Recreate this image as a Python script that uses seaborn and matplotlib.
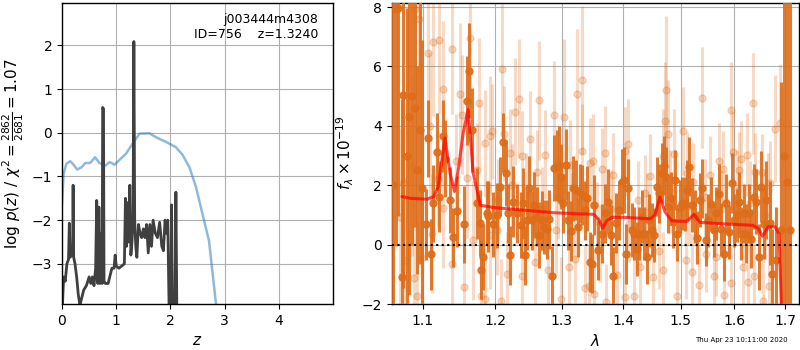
import numpy as np
import seaborn as sns
import matplotlib
matplotlib.use("Agg")
import matplotlib.pyplot as plt
from matplotlib.ticker import NullLocator

sns.set_style("ticks", {"axes.grid": True, "grid.color": "#b0b0b0", "axes.edgecolor": "k",
                        "xtick.color": "k", "ytick.color": "k", "text.color": "k",
                        "axes.labelcolor": "k"})
plt.rcParams['font.family'] = ['DejaVu Sans']

# ---- p(z) panel ----
z_pz = [0.0, 0.03, 0.06, 0.09, 0.12, 0.135, 0.15, 0.17, 0.195, 0.205, 0.215, 0.24, 0.27, 0.30,
        0.33, 0.36, 0.40, 0.45, 0.50, 0.53, 0.56, 0.59, 0.62, 0.64, 0.66, 0.68, 0.70, 0.72, 0.74,
        0.750, 0.765, 0.775, 0.80, 0.85, 0.88, 0.92, 0.96, 0.98, 1.0, 1.05, 1.1, 1.15, 1.17,
        1.19, 1.21, 1.23, 1.25, 1.27, 1.29, 1.31, 1.325, 1.34, 1.36, 1.38, 1.41, 1.44, 1.47,
        1.50, 1.53, 1.56, 1.59, 1.62, 1.65, 1.68, 1.72, 1.76, 1.80, 1.84, 1.87, 1.90, 1.93,
        1.95, 1.98, 2.0, 2.02, 2.04, 2.08, 2.10, 2.12, 2.2]
logpz = [-4.2, -3.3, -3.4, -3.0, -2.9, -2.07, -2.85, -2.8, -2.8, -1.2, -2.85, -3.0, -3.3, -3.7,
         -3.95, -3.8, -3.6, -3.5, -3.3, -3.45, -3.3, -3.5, -3.1, -1.55, -3.45, -1.7, -3.45, -2.3,
         -3.45, 0.58, 0.55, -3.4, -3.45, -3.45, -3.3, -3.1, -3.1, -2.8, -3.05, -3.1, -3.05,
         -3.0, -1.5, -2.6, -1.6, -2.5, -1.2, -2.8, -2.5, -2.0, 2.09, -2.0, -2.6, -2.85, -2.1,
         -2.3, -2.4, -2.2, -2.4, -2.1, -2.75, -2.1, -2.6, -2.0, -2.3, -2.4, -2.05, -2.6, -2.7,
         -2.0, -2.3, -2.0, -4.5, -4.5, -1.65, -4.5, -4.5, -1.36, -4.5, -6.0]

z_chi = [0.0, 0.03, 0.08, 0.15, 0.2, 0.28, 0.36, 0.43, 0.52, 0.61, 0.69, 0.8, 0.88, 0.97, 1.06,
         1.18, 1.3, 1.43, 1.61, 1.73, 1.92, 2.1, 2.22, 2.35, 2.47, 2.59, 2.71, 2.84, 2.95]
chi_prior = [-1.63, -0.94, -0.71, -0.65, -0.71, -0.84, -0.79, -0.69, -0.69, -0.56, -0.69, -0.75,
             -0.67, -0.73, -0.62, -0.48, -0.25, -0.02, -0.01, -0.1, -0.21, -0.33, -0.5, -0.79,
             -1.24, -1.86, -2.47, -3.93, -5.5]

# ---- spectrum panel ----
dark_wave = [1.0612, 1.0655, 1.0685, 1.0727, 1.0749, 1.0792, 1.0822, 1.0865, 1.0900, 1.0931,
             1.0966, 1.0988, 1.1041, 1.1076, 1.1116, 1.1143, 1.1187, 1.1223, 1.1268, 1.1300,
             1.1368, 1.1413, 1.1459, 1.1560, 1.1597, 1.1635, 1.1677, 1.1737, 1.1784, 1.1794,
             1.1832, 1.1879, 1.1903, 1.1965, 1.2024, 1.2072, 1.2120, 1.2154, 1.2193, 1.2218,
             1.2267, 1.2316, 1.2380, 1.2415, 1.2440, 1.2475, 1.2505, 1.2540, 1.2575, 1.2615,
             1.2656, 1.2691, 1.2727, 1.2767, 1.2808, 1.2844, 1.2885, 1.2921, 1.2952, 1.2983,
             1.3025, 1.3062, 1.3104, 1.3146, 1.3183, 1.3225, 1.3262, 1.3288, 1.3320, 1.3368,
             1.3406, 1.3449, 1.3477, 1.3519, 1.3585, 1.3640, 1.3694, 1.3749, 1.3788, 1.3832,
             1.3876, 1.3932, 1.3971, 1.4016, 1.4044, 1.4083, 1.4140, 1.4185, 1.4225, 1.4270,
             1.4310, 1.4356, 1.4396, 1.4442, 1.4489, 1.4529, 1.4570, 1.4617, 1.4658, 1.4699,
             1.4734, 1.4776, 1.4823, 1.4865, 1.4900, 1.4936, 1.4984, 1.5026, 1.5074, 1.5117,
             1.5153, 1.5195, 1.5256, 1.5299, 1.5348, 1.5397, 1.5459, 1.5508, 1.5558, 1.5608,
             1.5658, 1.5708, 1.5752, 1.5803, 1.5847, 1.5892, 1.5943, 1.5987, 1.6039, 1.6090,
             1.6135, 1.6180, 1.6232, 1.6284, 1.6329, 1.6381, 1.6427, 1.6480, 1.6526, 1.6572,
             1.6625, 1.6692, 1.6745, 1.6813, 1.6928, 1.6990, 1.7044, 1.7112]
dark_flux = [2.0, 7.95, 7.97, -1.10, 5.04, 2.97, 4.30, 5.00, 4.59, 2.51,
             3.86, 1.90, 0.68, 3.58, -0.33, 1.39, 3.13, 1.62, 3.66, 2.90,
             1.50, 0.25, 1.12, 0.69, 4.85, 5.85, 3.86, 1.39, 0.73, -0.84,
             -0.42, 1.05, 0.96, 0.68, 0.99, 1.95, 3.45, 2.41, 1.05, -0.36,
             1.45, 1.05, 0.66, 1.39, -0.36, 0.82, 1.90, 0.82, 1.33, 0.94,
             0.32, 0.82, 0.60, 0.51, 0.85, -1.04, 2.58, 2.66, 2.69, 2.29,
             1.39, 2.69, 0.82, 0.46, 1.90, 1.84, 0.60, 1.73, 1.67, 1.16,
             1.56, -0.59, -0.64, 1.33, -0.19, 0.37, 1.05, 1.45, 0.32, -1.07,
             0.73, 1.16, 2.12, 2.18, -0.31, 1.90, 0.49, 0.37, -0.14, 0.37,
             0.94, 0.37, -0.42, 0.82, 0.49, 0.32, 1.95, 1.73, 2.41, 2.66,
             2.29, 1.28, 1.56, 0.77, 2.18, 0.35, 1.28, 1.39, 1.37, 1.84,
             2.63, 1.33, 0.94, 0.24, 1.50, 1.90, 0.17, 0.82, 1.37, 0.49,
             1.05, 1.71, 0.51, -0.33, 1.39, 0.43, 2.07, 0.82, 0.99, 1.45,
             0.37, 1.05, 0.37, 1.05, 0.20, 1.62, 1.45, -0.42, 1.95, 0.71,
             1.50, 0.73, -0.98, -0.53, 0.49, 3.00, 2.10, 0.49]
dark_err = [9.0, 8.0, 7.0, 6.0, 6.5, 5.0, 6.0, 5.0, 4.0, 3.5,
            4.5, 5.0, 1.2, 1.3, 1.2, 1.3, 1.3, 1.2, 1.2, 1.3,
            1.1, 1.0, 1.2, 1.3, 1.5, 1.6, 1.4, 1.2, 1.1, 1.0,
            1.1, 1.1, 1.2, 1.1, 1.1, 1.0, 1.0, 1.1, 1.0, 1.0,
            1.2, 1.0, 1.1, 1.2, 1.0, 1.0, 1.1, 1.0, 1.1, 1.0,
            1.1, 1.0, 0.9, 1.0, 1.0, 1.0, 1.1, 1.2, 1.3, 1.1,
            1.0, 1.2, 1.0, 1.0, 1.1, 1.0, 1.0, 1.0, 1.0, 1.0,
            1.1, 1.0, 1.0, 1.0, 1.0, 1.0, 1.0, 1.1, 1.0, 1.0,
            1.0, 1.0, 1.1, 1.1, 1.0, 1.0, 0.9, 0.9, 0.9, 0.9,
            0.9, 0.9, 0.9, 0.9, 0.9, 0.9, 1.0, 1.0, 1.0, 1.0,
            1.0, 0.9, 0.9, 0.9, 1.0, 0.9, 0.9, 0.9, 0.9, 1.0,
            1.0, 0.9, 0.9, 0.9, 0.9, 1.0, 0.9, 0.9, 0.9, 0.9,
            0.9, 1.0, 0.9, 0.9, 1.0, 0.9, 1.0, 0.9, 0.9, 1.0,
            0.9, 1.0, 1.0, 1.0, 1.0, 1.1, 1.1, 1.1, 1.2, 1.2,
            1.3, 1.4, 1.5, 1.8, 5.0, 9.0, 10.0, 10.0]

light_wave = [1.0900, 1.0957, 1.1143, 1.1223, 1.1391, 1.1076, 1.1277, 1.1505, 1.1528, 1.1775,
              1.1644, 1.1927, 1.1860, 1.1098, 1.0857, 1.0749, 1.0706, 1.0770, 1.0892, 1.0988,
              1.1120, 1.1268, 1.1391, 1.1560, 1.1794, 1.1855, 1.1927, 1.1691, 1.1597, 1.0931,
              1.2106, 1.2355, 1.2656, 1.3325, 1.3245, 1.2296, 1.2885, 1.3036, 1.1952, 1.2135,
              1.2515, 1.2400, 1.2742, 1.3315, 1.3130, 1.3449, 1.2615, 1.2218, 1.2024, 1.2169,
              1.2390, 1.2590, 1.2793, 1.2906, 1.3109, 1.3368, 1.2087, 1.3209, 1.3440, 1.2989,
              1.3493, 1.3700, 1.3640, 1.3832, 1.4022, 1.4083, 1.4734, 1.4717, 1.4776, 1.4676,
              1.5032, 1.4877, 1.5104, 1.4454, 1.4253, 1.4368, 1.3515, 1.3711, 1.3899, 1.4027,
              1.4185, 1.4512, 1.4687, 1.4925, 1.5092, 1.4617, 1.4282, 1.3613,
              1.5397, 1.5930, 1.6362, 1.6793, 1.6894, 1.5708, 1.5784, 1.5975, 1.6122, 1.6245,
              1.6090, 1.6394, 1.6546, 1.5226, 1.5533, 1.6692, 1.6659, 1.5324, 1.5608, 1.5797,
              1.5936, 1.6167, 1.6265, 1.6559, 1.6678, 1.5213, 1.5471, 1.5658, 1.6380,
              1.2050, 1.2250, 1.2450, 1.2700, 1.2950, 1.3170, 1.3560, 1.3800, 1.4100, 1.4400,
              1.4800, 1.5150, 1.5450, 1.5750, 1.6050, 1.6300, 1.6600, 1.1200, 1.1450, 1.1750]
light_flux = [7.94, 7.60, 6.84, 6.90, 6.59, 6.47, 5.23, 5.06, 4.38, 4.76,
              6.95, 3.67, 3.42, 3.99, 2.63, 2.09, 0.94, -0.53, -1.13, -0.44,
              0.37, 1.22, -0.64, -1.44, -1.72, -1.83, 0.32, 0.15, 2.24, -1.72,
              5.91, 4.92, 4.86, 5.54, 5.06, 4.47, 4.38, 4.31, 3.82, 3.73,
              3.56, 2.99, 3.03, 3.14, 2.69, 2.75, 2.46, 3.08, 0.49, -0.98,
              -1.07, -0.59, -0.85, 0.49, -0.76, -1.46, -1.89, -0.47, -1.38, -1.83,
              2.80, 3.08, 2.54, 2.35, 3.14, 3.40, 5.21, 4.16, 3.74, 2.97,
              3.82, 3.06, 2.41, 2.32, 1.50, 1.73, -1.66, -1.94, -1.01, -1.77,
              -1.72, -1.10, -0.87, -1.72, -0.53, -0.21, -0.76, 0.03,
              4.95, 4.55, 4.76, 3.90, 4.10, 2.80, 2.54, 3.11, 2.88, 3.03,
              2.50, 2.46, 2.43, 2.12, 2.35, 2.09, 1.79, -1.36, -1.07, -1.68,
              -1.30, -0.76, -1.27, -1.89, -1.38, -0.93, -0.31, -0.42, -1.04,
              1.50, 2.00, 1.70, 1.20, 1.60, 1.00, 0.80, 1.20, 0.70, 1.10,
              1.80, 1.30, 1.60, 1.20, 1.80, 1.40, 1.00, 2.20, 2.80, 2.50]
light_err = [3.0, 3.0, 2.5, 2.5, 2.2, 2.5, 2.3, 2.4, 2.0, 2.2,
             2.3, 2.0, 1.8, 2.5, 3.0, 3.0, 3.0, 2.8, 2.5, 2.5,
             2.0, 2.0, 2.0, 1.8, 1.8, 1.7, 1.8, 2.0, 2.0, 2.5,
             2.2, 2.0, 2.0, 2.5, 2.2, 1.8, 1.8, 2.6, 1.6, 1.6,
             1.6, 1.5, 1.5, 1.6, 1.5, 1.5, 1.4, 1.5, 1.5, 1.4,
             1.4, 1.4, 1.4, 1.5, 1.4, 1.4, 1.4, 1.5, 1.4, 1.4,
             1.6, 1.6, 1.4, 1.4, 1.5, 1.5, 2.5, 2.0, 1.8, 1.6,
             1.5, 1.5, 1.4, 1.4, 1.3, 1.3, 1.5, 1.3, 1.3, 1.3,
             1.3, 1.3, 1.3, 1.3, 1.3, 1.3, 1.3, 1.3,
             1.7, 1.6, 1.7, 1.8, 2.0, 1.3, 1.3, 1.4, 1.3, 1.4,
             1.3, 1.3, 1.3, 1.3, 1.3, 1.4, 1.3, 1.3, 1.3, 1.3,
             1.3, 1.3, 1.3, 1.4, 1.4, 1.3, 1.3, 1.3, 1.3,
             1.4, 1.4, 1.4, 1.4, 1.4, 1.4, 1.3, 1.3, 1.3, 1.3,
             1.4, 1.3, 1.3, 1.3, 1.4, 1.4, 1.5, 1.6, 1.6, 1.6]

model_wave = [1.073, 1.084, 1.106, 1.115, 1.121, 1.130, 1.137, 1.143, 1.149, 1.155, 1.162,
              1.169, 1.179, 1.198, 1.242, 1.292, 1.351, 1.359, 1.366, 1.372, 1.381, 1.400,
              1.446, 1.454, 1.463, 1.472, 1.484, 1.511, 1.524, 1.535, 1.579, 1.636, 1.646,
              1.655, 1.666, 1.680, 1.688, 1.693]
model_flux = [1.62, 1.56, 1.53, 1.62, 1.95, 3.59, 2.41, 1.79, 2.63, 3.76, 4.55,
              2.41, 1.33, 1.25, 1.16, 1.07, 1.02, 0.85, 0.55, 0.80, 0.92, 0.92,
              0.87, 1.00, 1.60, 1.10, 0.80, 0.78, 1.02, 0.75, 0.70, 0.65, 0.55,
              0.28, 0.60, 0.60, 0.35, -2.2]

orange = "#de6d1a"

fig = plt.figure(figsize=(8, 3.5), dpi=100)
ax1 = fig.add_axes([0.0775, 0.1314, 0.339, 0.861])
ax2 = fig.add_axes([0.4896, 0.1314, 0.5095, 0.861])

sns.lineplot(x=z_chi, y=chi_prior, ax=ax1, color="tab:blue", alpha=0.5, lw=1.8, estimator=None)
sns.lineplot(x=z_pz, y=logpz, ax=ax1, color="0.25", lw=2, estimator=None)
ax1.set_xlim(0, 5)
ax1.set_ylim(-3.92, 2.98)
ax1.set_xticks([0, 1, 2, 3, 4])
ax1.set_yticks([-3, -2, -1, 0, 1, 2])
ax1.set_xlabel("$z$", fontsize=11)
ax1.set_ylabel(r"log $p(z)$ / $\chi^2=\frac{2862}{2681}=1.07$", fontsize=11)
ax1.text(0.945, 0.965, "j003444m4308\nID=756    z=1.3240", transform=ax1.transAxes,
         ha="right", va="top", fontsize=9)

ax2.errorbar(light_wave, light_flux, yerr=light_err, fmt="o", color=orange, alpha=0.25,
             ms=5, elinewidth=2.2, zorder=2)
ax2.errorbar(dark_wave, dark_flux, yerr=dark_err, fmt="o", color=orange, alpha=0.9,
             ms=5, elinewidth=2.2, zorder=3)
sns.lineplot(x=model_wave, y=model_flux, ax=ax2, color="red", alpha=0.7, lw=2.2,
             estimator=None, zorder=4)
ax2.axhline(0, color="k", ls=":", lw=1.5, zorder=5)
ax2.set_xscale("log")
ax2.set_xlim(1.06, 1.7295)
ax2.set_ylim(-2, 8.15)
ax2.set_xticks([1.1, 1.2, 1.3, 1.4, 1.5, 1.6, 1.7])
ax2.set_xticklabels(["1.1", "1.2", "1.3", "1.4", "1.5", "1.6", "1.7"])
ax2.xaxis.set_minor_locator(NullLocator())
ax2.set_yticks([-2, 0, 2, 4, 6, 8])
ax2.set_xlabel(r"$\lambda$", fontsize=11)
ax2.set_ylabel(r"$f_\lambda \times 10^{-19}$", fontsize=11)

for ax in (ax1, ax2):
    ax.tick_params(labelsize=10, length=3.5, width=0.8)
    for s in ax.spines.values():
        s.set_linewidth(1.0)

fig.text(0.985, 0.028, "Thu Apr 23 10:11:00 2020", ha="right", va="center", fontsize=5)

fig.savefig("out.png", dpi=100)
